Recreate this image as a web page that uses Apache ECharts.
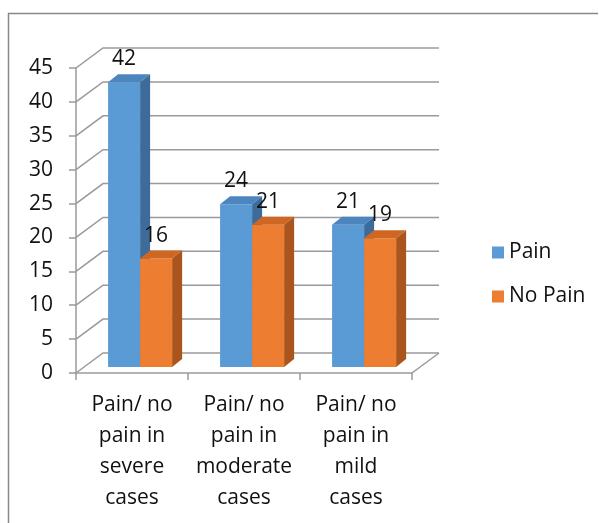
<!DOCTYPE html>
<html>
<head>
<meta charset="utf-8">
<script src="https://cdn.jsdelivr.net/npm/echarts@6/dist/echarts.min.js"></script>
<style>
html,body{margin:0;padding:0;background:#fff;}
#chart{width:599px;height:523px;}
</style>
</head>
<body>
<div id="chart"></div>
<script>
const categories = ['Pain/ no\npain in\nsevere\ncases', 'Pain/ no\npain in\nmoderate\ncases', 'Pain/ no\npain in\nmild\ncases'];
const seriesNames = ['Pain', 'No Pain'];
const painValues = [42, 24, 21];
const noPainValues = [16, 21, 19];
const yTicks = [0, 5, 10, 15, 20, 25, 30, 35, 40, 45];

const DX = 27, DY = -20;          // depth of the 3D box
const F = 0.3;                    // bars sit at this depth fraction
const BDX = 10, BDY = -8;         // bar thickness in depth
const FONT = '"Open Sans", "Noto Sans", sans-serif';
const FS = 21;

const colors = {
  'Pain': {front: '#5B9BD5', top: '#4D86BE', side: '#3E6C9A'},
  'No Pain': {front: '#ED7D31', top: '#CF6621', side: '#A9551D'}
};

function wallRender(params, api) {
  const cs = params.coordSys;
  const v = api.value(1);
  const y = api.coord([0, v])[1];
  const left = cs.x, right = cs.x + cs.width;
  const children = [{
    type: 'polyline',
    shape: {points: [[left, y], [left + DX, y + DY], [right + DX, y + DY]]},
    style: {stroke: '#9a9a9a', lineWidth: 1.5, fill: null}
  }];
  if (v === 0) {
    children.push({
      type: 'line',
      shape: {x1: right, y1: y, x2: right + DX, y2: y + DY},
      style: {stroke: '#9a9a9a', lineWidth: 1.5}
    });
  }
  return {type: 'group', children};
}

function barRender(seriesIdx) {
  return function (params, api) {
    const i = api.value(0), v = api.value(1);
    const c = api.coord([i, v]);
    const base = api.coord([i, 0]);
    const band = api.size([1, 0])[0];
    const barW = band * 0.286;
    const sx = F * DX, sy = F * DY;
    const xL = c[0] + sx - barW + seriesIdx * barW;
    const xR = xL + barW;
    const yt = c[1] + sy, yb = base[1] + sy;
    const col = colors[seriesNames[seriesIdx]];
    return {
      type: 'group',
      children: [
        {type: 'rect', shape: {x: xL, y: yt, width: barW, height: yb - yt}, style: {fill: col.front}},
        {type: 'polygon', shape: {points: [[xL, yt], [xR, yt], [xR + BDX, yt + BDY], [xL + BDX, yt + BDY]]}, style: {fill: col.top}},
        {type: 'polygon', shape: {points: [[xR, yt], [xR + BDX, yt + BDY], [xR + BDX, yb + BDY], [xR, yb]]}, style: {fill: col.side}},
        {type: 'text', style: {x: xL + barW / 2, y: yt - 23, text: String(v), fill: '#111', font: FS + 'px ' + FONT, align: 'center', verticalAlign: 'middle'}}
      ]
    };
  };
}

const chart = echarts.init(document.getElementById('chart'));
chart.setOption({
  animation: false,
  backgroundColor: '#fff',
  graphic: [
    {type: 'line', shape: {x1: 8, y1: 13.5, x2: 598, y2: 13.5}, style: {stroke: '#888', lineWidth: 1.5}},
    {type: 'line', shape: {x1: 8.5, y1: 13, x2: 8.5, y2: 523}, style: {stroke: '#888', lineWidth: 1.5}}
  ],
  grid: {left: 76, right: 187, top: 68, bottom: 150},
  legend: {
    orient: 'vertical',
    left: 487,
    top: 236,
    itemWidth: 12,
    itemHeight: 12,
    itemGap: 21,
    icon: 'rect',
    data: seriesNames,
    textStyle: {fontSize: FS, fontFamily: FONT, color: '#111', lineHeight: 23}
  },
  xAxis: {
    type: 'category',
    data: categories,
    boundaryGap: true,
    axisLine: {lineStyle: {color: '#9a9a9a', width: 1.5}},
    axisTick: {show: true, length: 7, lineStyle: {color: '#9a9a9a', width: 1.5}},
    axisLabel: {fontSize: FS, fontFamily: FONT, color: '#111', lineHeight: 31, margin: 17, interval: 0}
  },
  yAxis: {
    type: 'value',
    min: 0,
    max: 45,
    interval: 5,
    axisLine: {show: true, lineStyle: {color: '#9a9a9a', width: 1.5}},
    axisTick: {show: true, length: 7, lineStyle: {color: '#9a9a9a', width: 1.5}},
    axisLabel: {fontSize: FS, fontFamily: FONT, color: '#111', margin: 23},
    splitLine: {show: false}
  },
  series: [
    {
      type: 'custom',
      name: 'walls',
      renderItem: wallRender,
      data: yTicks.map(v => [0, v]),
      encode: {x: 0, y: 1},
      silent: true,
      z: 1
    },
    {
      type: 'custom',
      name: seriesNames[0],
      renderItem: barRender(0),
      itemStyle: {color: colors['Pain'].front},
      data: painValues.map((v, i) => [i, v]),
      encode: {x: 0, y: 1},
      z: 2
    },
    {
      type: 'custom',
      name: seriesNames[1],
      renderItem: barRender(1),
      itemStyle: {color: colors['No Pain'].front},
      data: noPainValues.map((v, i) => [i, v]),
      encode: {x: 0, y: 1},
      z: 3
    }
  ]
});
</script>
</body>
</html>
